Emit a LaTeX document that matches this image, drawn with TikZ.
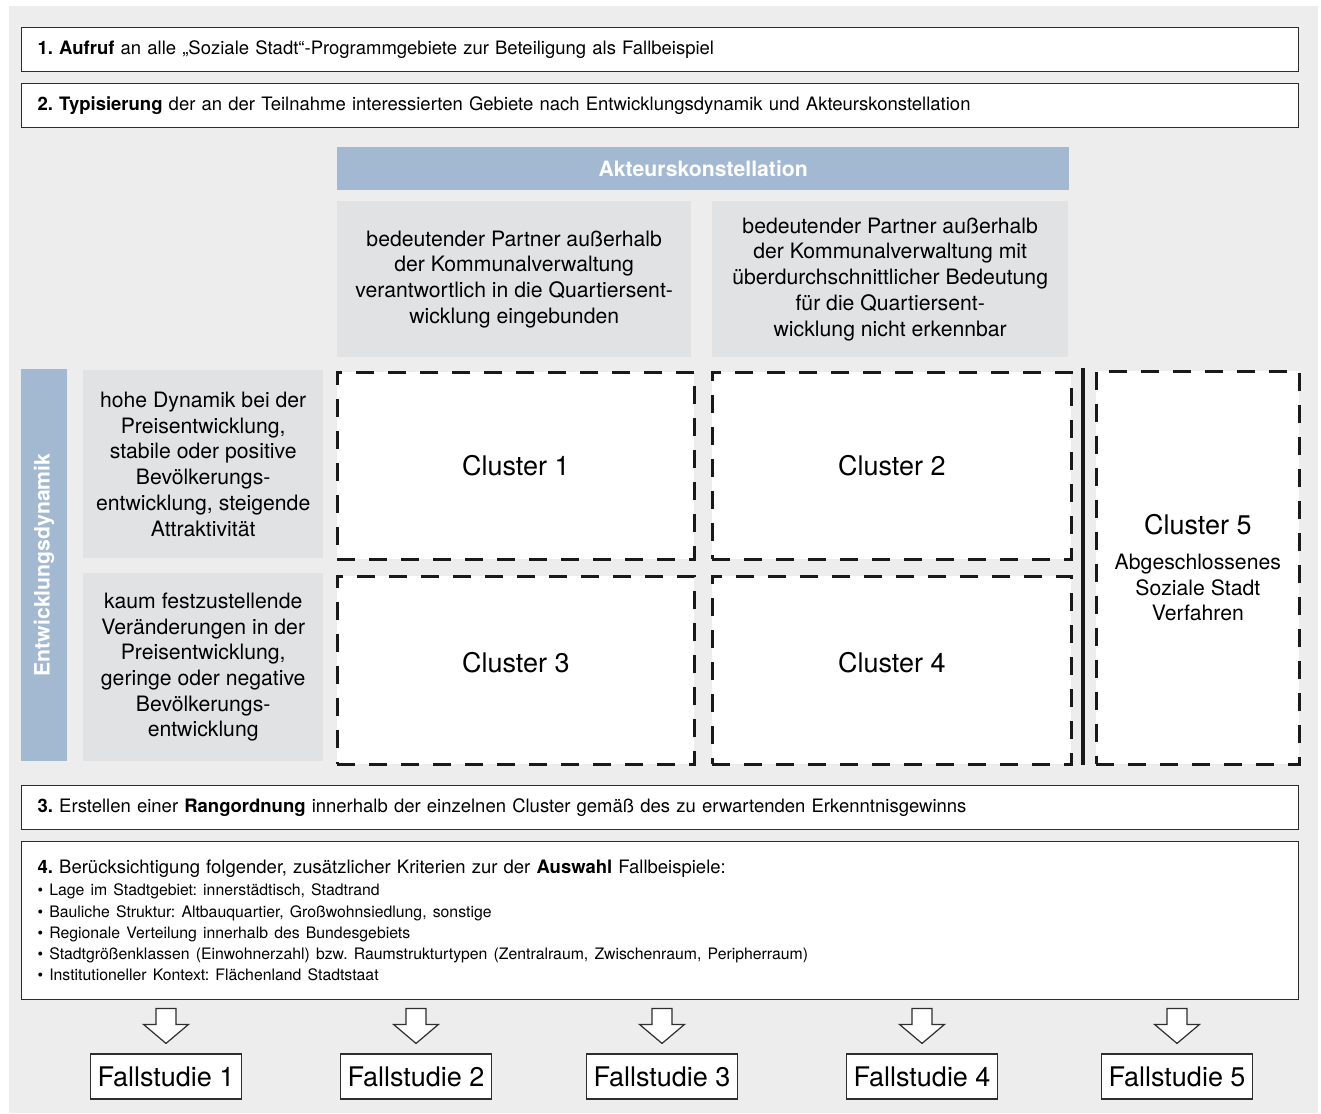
\documentclass[tikz,border=0pt]{standalone}
\usepackage{fontspec}
\setmainfont{TeX Gyre Heros}
\usetikzlibrary{positioning,calc}
\definecolor{bggray}{HTML}{EDEDED}
\definecolor{cellgray}{HTML}{E1E2E4}
\definecolor{headblue}{HTML}{A3B9D1}
\definecolor{linegray}{HTML}{2E2E2E}
\frenchspacing
\tikzset{
  stepbox/.style={draw=linegray,line width=1.2pt,fill=white,anchor=north west,
    minimum width=1277,minimum height=44,inner xsep=16,inner ysep=0,text width=1245,
    align=left,font=\fontsize{18.5}{21}\selectfont},
  cellbox/.style={fill=cellgray,anchor=north west,inner sep=0,align=center,
    font=\fontsize{21.2}{25.7}\selectfont},
  headbox/.style={fill=headblue,text=white,inner sep=0,
    font=\bfseries\fontsize{21.2}{25}\selectfont},
  clusterbox/.style={draw=black!90,line width=2.6pt,dash pattern=on 18pt off 14pt,
    fill=white,anchor=north west,inner sep=0,align=center,font=\fontsize{27}{32}\selectfont},
  fsbox/.style={draw=linegray,line width=1.2pt,fill=white,inner xsep=7,inner ysep=0,
    minimum height=45,font=\fontsize{27}{32}\selectfont},
  blockarrow/.style={draw=linegray,line width=1.2pt,fill=white,line join=miter}
}
\newcommand{\critline}[1]{\fontsize{15.8}{21.3}\selectfont\textbullet\ #1}
\begin{document}
\begin{tikzpicture}[x=1pt,y=-1pt]
\useasboundingbox (0,0) rectangle (1321,1113);
\fill[white] (0,0) rectangle (1321,1113);
\fill[bggray] (9,6) rectangle (1318,1113);

\node[stepbox] (s1) at (21,27) {\textbf{1. Aufruf} an alle „Soziale Stadt“-Programmgebiete zur Beteiligung als Fallbeispiel};
\node[stepbox] (s2) at (21,83) {\textbf{2. Typisierung} der an der Teilnahme interessierten Gebiete nach Entwicklungsdynamik und Akteurskonstellation};

\node[headbox,anchor=north west,minimum width=732,minimum height=43] (akteur) at (337,147) {Akteurskonstellation};
\node[cellbox,minimum width=354,minimum height=156] (colA) at (337,201)
  {bedeutender Partner außerhalb\\der Kommunalverwaltung\\verantwortlich in die Quartiersent-\\wicklung eingebunden};
\node[cellbox,minimum width=356,minimum height=156] (colB) at (712,201)
  {bedeutender Partner außerhalb\\der Kommunalverwaltung mit\\überdurchschnittlicher Bedeutung\\für die Quartiersent-\\wicklung nicht erkennbar};

\node[headbox,rotate=90,minimum width=392,minimum height=46] (entw) at (44,565) {Entwicklungsdynamik};
\node[cellbox,minimum width=240,minimum height=188] (rowA) at (83,370)
  {hohe Dynamik bei der\\Preisentwicklung,\\stabile oder positive\\Bevölkerungs-\\entwicklung, steigende\\Attraktivität};
\node[cellbox,minimum width=240,minimum height=188] (rowB) at (83,573)
  {kaum festzustellende\\Veränderungen in der\\Preisentwicklung,\\geringe oder negative\\Bevölkerungs-\\entwicklung};

\node[clusterbox,minimum width=357,minimum height=187] (cl1) at (336,371) {Cluster 1};
\node[clusterbox,minimum width=359,minimum height=187] (cl2) at (711,371) {Cluster 2};
\node[clusterbox,minimum width=357,minimum height=188,text depth=16pt] (cl3) at (336,575) {Cluster 3};
\node[clusterbox,minimum width=359,minimum height=188,text depth=16pt] (cl4) at (711,575) {Cluster 4};
\node[clusterbox,minimum width=203,minimum height=393,font=\fontsize{21.2}{25.7}\selectfont] (cl5) at (1095,370)
  {{\fontsize{27}{32}\selectfont Cluster 5}\\[9pt]Abgeschlossenes\\Soziale Stadt\\Verfahren};
\draw[line width=4pt,black!90] (1083,368) -- (1083,765);

\node[stepbox] (s3) at (21,785) {\textbf{3.} Erstellen einer \textbf{Rangordnung} innerhalb der einzelnen Cluster gemäß des zu erwartenden Erkenntnisgewinns};
\node[stepbox,minimum height=158] (s4) at (21,841)
  {\textbf{4.} Berücksichtigung folgender, zusätzlicher Kriterien zur der \textbf{Auswahl} Fallbeispiele:\\[1pt]
   \critline{Lage im Stadtgebiet: innerstädtisch, Stadtrand}\\
   \critline{Bauliche Struktur: Altbauquartier, Großwohnsiedlung, sonstige}\\
   \critline{Regionale Verteilung innerhalb des Bundesgebiets}\\
   \critline{Stadtgrößenklassen (Einwohnerzahl) bzw. Raumstrukturtypen (Zentralraum, Zwischenraum, Peripherraum)}\\
   \critline{Institutioneller Kontext: Flächenland Stadtstaat}\\[8pt]};

\foreach \i/\x in {1/166,2/416,3/662,4/922,5/1177}{
  \node[fsbox] (fs\i) at (\x,1076.5) {Fallstudie \i};
  \draw[blockarrow] ($(fs\i.north)+(-10,-45)$) -- ++(20,0) -- ++(0,16) -- ++(12.5,0)
    -- ($(fs\i.north)+(0,-10)$) -- ++(-22.5,-19) -- ++(12.5,0) -- cycle;
}
\end{tikzpicture}
\end{document}
